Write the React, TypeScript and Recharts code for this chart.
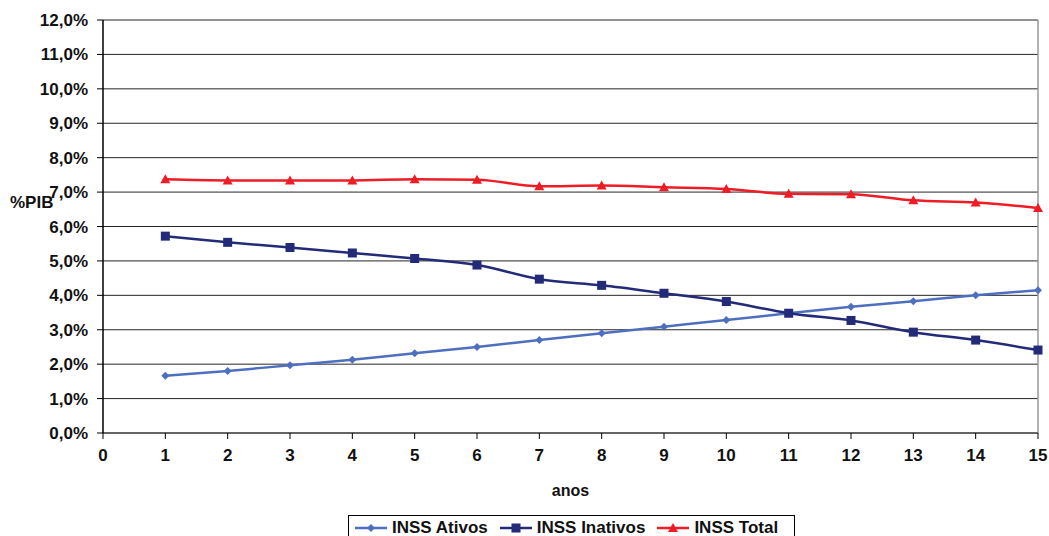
import {
  CartesianGrid,
  Line,
  LineChart,
  ReferenceLine,
  XAxis,
  YAxis,
} from "recharts";

const anos = [1, 2, 3, 4, 5, 6, 7, 8, 9, 10, 11, 12, 13, 14, 15];
const ativos = [1.66, 1.8, 1.97, 2.13, 2.32, 2.5, 2.7, 2.9, 3.09, 3.28, 3.48, 3.67, 3.83, 4.0, 4.15];
const inativos = [5.72, 5.54, 5.39, 5.23, 5.07, 4.88, 4.47, 4.29, 4.06, 3.82, 3.48, 3.27, 2.93, 2.7, 2.41];
const total = [7.37, 7.34, 7.34, 7.34, 7.37, 7.36, 7.17, 7.19, 7.14, 7.09, 6.95, 6.94, 6.76, 6.7, 6.54];

const xTicks = [0, 1, 2, 3, 4, 5, 6, 7, 8, 9, 10, 11, 12, 13, 14, 15];
const yTicks = [0, 1, 2, 3, 4, 5, 6, 7, 8, 9, 10, 11, 12];

const data = anos.map((ano, i) => ({
  ano,
  ativos: ativos[i],
  inativos: inativos[i],
  total: total[i],
}));

const AZUL = "#4e6fc0";
const MARINHO = "#232a78";
const VERMELHO = "#ee1c25";
const FONT = "'Liberation Sans', Arial, sans-serif";
const FS = 17;

const fmtPct = (v: number) => `${v.toFixed(1).replace(".", ",")}%`;

function Diamond(props: any) {
  const { cx, cy, fill } = props;
  if (cx == null || cy == null) return null;
  const r = 4;
  return <path d={`M${cx},${cy - r}L${cx + r},${cy}L${cx},${cy + r}L${cx - r},${cy}Z`} fill={fill} />;
}

function Square(props: any) {
  const { cx, cy, fill } = props;
  if (cx == null || cy == null) return null;
  const s = 4.5;
  return <rect x={cx - s} y={cy - s} width={s * 2} height={s * 2} fill={fill} />;
}

function Triangle(props: any) {
  const { cx, cy, fill } = props;
  if (cx == null || cy == null) return null;
  const s = 5;
  return <path d={`M${cx},${cy - s}L${cx + s},${cy + s - 1}L${cx - s},${cy + s - 1}Z`} fill={fill} />;
}

const legendItems = [
  { label: "INSS Ativos", color: AZUL, Marker: Diamond },
  { label: "INSS Inativos", color: MARINHO, Marker: Square },
  { label: "INSS Total", color: VERMELHO, Marker: Triangle },
];

function LegendBox() {
  return (
    <div
      style={{
        position: "absolute",
        left: 348,
        top: 515,
        display: "flex",
        alignItems: "center",
        border: "1px solid #000",
        padding: "2px 4px 4px 6px",
        background: "#fff",
        fontFamily: FONT,
        fontWeight: 700,
        fontSize: FS,
        lineHeight: "20px",
        color: "#111",
        whiteSpace: "nowrap",
      }}
    >
      {legendItems.map(({ label, color, Marker }) => (
        <div key={label} style={{ display: "flex", alignItems: "center", marginRight: 12 }}>
          <svg width={32} height={14} style={{ marginRight: 5 }}>
            <line x1={0} y1={7} x2={32} y2={7} stroke={color} strokeWidth={2.5} />
            <Marker cx={16} cy={7} fill={color} />
          </svg>
          <span>{label}</span>
        </div>
      ))}
    </div>
  );
}

export default function App() {
  return (
    <div style={{ position: "absolute", left: 0, top: 0, width: 1049, height: 536, background: "#fff", overflow: "hidden" }}>
      <LineChart
        width={1049}
        height={536}
        data={data}
        margin={{ top: 20, right: 11, left: 0, bottom: 0 }}
      >
        <CartesianGrid horizontal vertical={false} stroke="#000" strokeWidth={1} strokeOpacity={0.85} />
        <XAxis
          dataKey="ano"
          type="number"
          domain={[0, 15]}
          ticks={xTicks}
          interval={0}
          axisLine={{ stroke: "#555", strokeWidth: 1.5 }}
          tickLine={{ stroke: "#000" }}
          tickSize={6}
          tickMargin={10}
          tick={{ fill: "#111", fontSize: FS, fontWeight: 700, fontFamily: FONT }}
          label={{
            value: "anos",
            position: "insideBottom",
            offset: 40,
            fill: "#111",
            fontSize: FS - 1,
            fontWeight: 700,
            fontFamily: FONT,
          }}
          height={103}
        />
        <YAxis
          type="number"
          domain={[0, 12]}
          ticks={yTicks}
          interval={0}
          width={103}
          axisLine={{ stroke: "#000", strokeWidth: 1.5 }}
          tickLine={{ stroke: "#000" }}
          tickSize={6}
          tickMargin={9}
          tickFormatter={fmtPct}
          tick={{ fill: "#111", fontSize: FS, fontWeight: 700, fontFamily: FONT }}
          label={{
            content: () => (
              <text x={10} y={208} fill="#111" fontSize={FS} fontWeight={700} fontFamily={FONT}>
                %PIB
              </text>
            ),
          }}
        />
        <ReferenceLine x={15} stroke="#999" strokeWidth={1.5} />
        <Line
          type="monotone"
          dataKey="ativos"
          name="INSS Ativos"
          stroke={AZUL}
          strokeWidth={2.5}
          dot={<Diamond fill={AZUL} />}
          activeDot={false}
          isAnimationActive={false}
        />
        <Line
          type="monotone"
          dataKey="inativos"
          name="INSS Inativos"
          stroke={MARINHO}
          strokeWidth={2.5}
          dot={<Square fill={MARINHO} />}
          activeDot={false}
          isAnimationActive={false}
        />
        <Line
          type="monotone"
          dataKey="total"
          name="INSS Total"
          stroke={VERMELHO}
          strokeWidth={2.5}
          dot={<Triangle fill={VERMELHO} />}
          activeDot={false}
          isAnimationActive={false}
        />
      </LineChart>
      <LegendBox />
    </div>
  );
}
